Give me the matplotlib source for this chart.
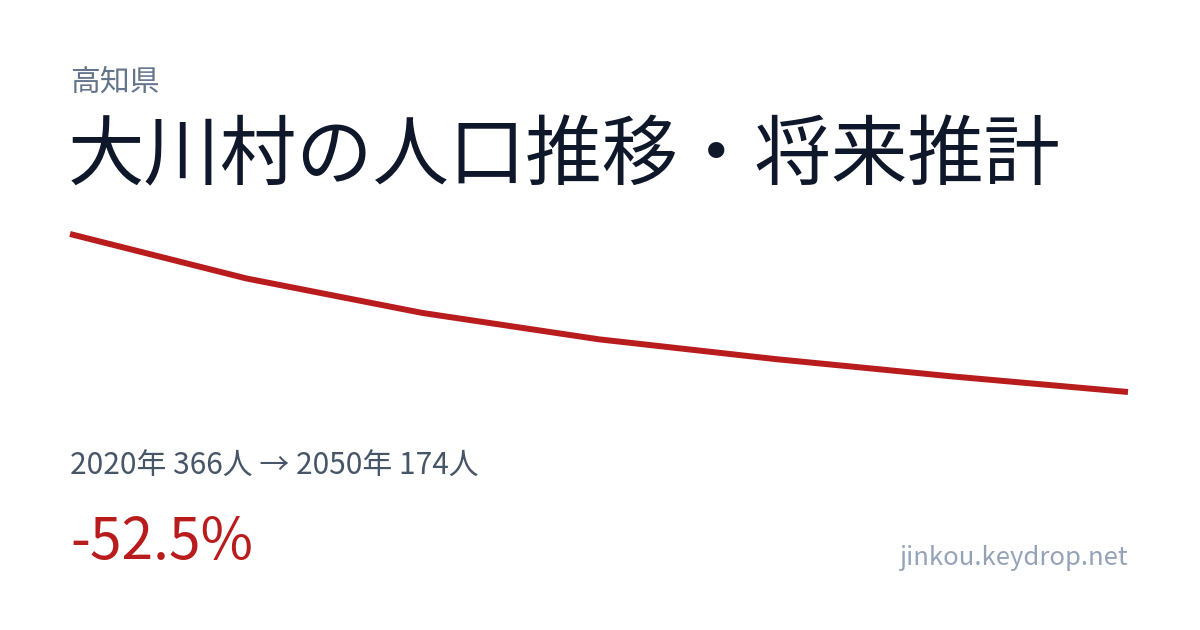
"""Population card for 大川村 (高知県): 2020-2050 trend line with summary text."""
import matplotlib
matplotlib.use("Agg")
import matplotlib.pyplot as plt

plt.rcParams["font.family"] = ["Noto Sans CJK JP", "DejaVu Sans"]

# data
years = [2020, 2025, 2030, 2035, 2040, 2045, 2050]
population = [366, 312, 270, 238, 214, 193, 174]

prefecture = "高知県"
title = "大川村の人口推移・将来推計"
site = "jinkou.keydrop.net"

W, H = 1200, 630
RED = "#b91c1c"


def px(x, y):
    # pixel coords (top-left origin) -> figure fraction
    return x / W, 1 - y / H


fig = plt.figure(figsize=(W / 100, H / 100), dpi=100)
fig.patch.set_facecolor("white")

# trend line, stretched between first/last values
ax = fig.add_axes([70 / W, 1 - 392 / H, 1058 / W, 158 / H])
ax.plot(years, population, color=RED, linewidth=4.3,
        solid_capstyle="butt", solid_joinstyle="round", clip_on=False)
ax.set_xlim(years[0], years[-1])
ax.set_ylim(min(population), max(population))
ax.axis("off")

fig.text(*px(70, 91), prefecture, fontsize=21.5, color="#64748b",
         ha="left", va="baseline")
fig.text(*px(68, 179), title, fontsize=55, color="#0f172a",
         ha="left", va="baseline")

change = (population[-1] - population[0]) / population[0] * 100
summary = f"{years[0]}年 {population[0]}人 → {years[-1]}年 {population[-1]}人"
fig.text(*px(70, 475), summary, fontsize=21.5, color="#475569",
         ha="left", va="baseline")
fig.text(*px(70, 559), f"{change:.1f}%", fontsize=41, color=RED,
         ha="left", va="baseline")
fig.text(*px(1128, 565), site, fontsize=18.5, color="#94a3b8",
         ha="right", va="baseline")

fig.savefig("out.png", dpi=100, facecolor="white")
